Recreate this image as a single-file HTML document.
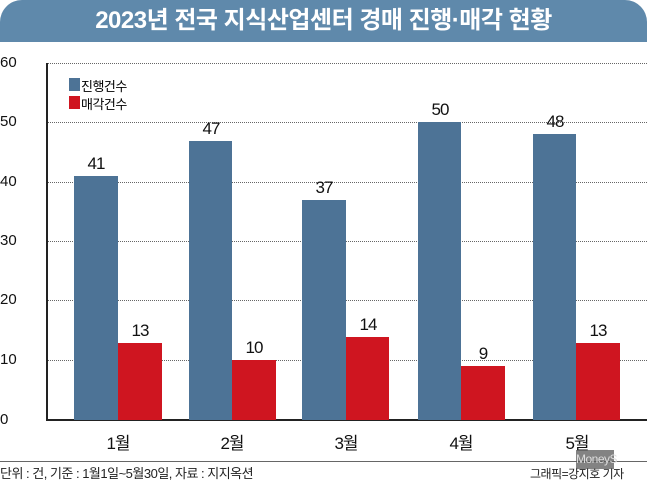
<!DOCTYPE html><html><head><meta charset="utf-8"><style>
body{margin:0;width:647px;height:481px;background:#fff;position:relative;overflow:hidden;font-family:"Liberation Sans","Noto Sans CJK KR",sans-serif}
.a{position:absolute;white-space:nowrap}
.hd{left:0;top:0;width:647px;height:42px;background:#5f89ab;border-radius:22px 22px 0 0;color:#fff;font-size:24px;font-weight:bold;text-align:center;line-height:42px;letter-spacing:-0.5px}
.g{left:47px;width:600px;border-top:1px dotted #666;height:0}
.yl{left:0;font-size:15px;color:#111}
.b{background:#4d7396}.r{background:#cf1520}
.v{font-size:17px;color:#111;width:44px;text-align:center;letter-spacing:-1px}
.m{font-size:17px;color:#111;width:60px;text-align:center;top:429px;letter-spacing:-1px}
</style></head><body>
<div class="a hd">2023년 전국 지식산업센터 경매 진행·매각 현황</div>
<div class="a g" style="top:63px"></div><div class="a g" style="top:122px"></div><div class="a g" style="top:182px"></div><div class="a g" style="top:241px"></div><div class="a g" style="top:300px"></div><div class="a g" style="top:360px"></div>
<div class="a yl" style="top:54px">60</div><div class="a yl" style="top:113px">50</div><div class="a yl" style="top:173px">40</div><div class="a yl" style="top:232px">30</div><div class="a yl" style="top:291px">20</div><div class="a yl" style="top:351px">10</div><div class="a yl" style="top:411px">0</div>
<div class="a" style="left:46px;top:63px;width:2px;height:358px;background:#222"></div>
<div class="a" style="left:46px;top:419px;width:601px;height:2px;background:#222"></div>
<div class="a b" style="left:69px;top:78px;width:11px;height:13px"></div><div class="a" style="left:81px;top:76px;font-size:13px;letter-spacing:-0.5px">진행건수</div>
<div class="a r" style="left:69px;top:96px;width:11px;height:13px"></div><div class="a" style="left:81px;top:94px;font-size:13px;letter-spacing:-0.5px">매각건수</div>

<div class="a b" style="left:74px;top:176px;width:44px;height:244px"></div><div class="a r" style="left:118px;top:343px;width:44px;height:77px"></div>
<div class="a v" style="left:74px;top:154px">41</div><div class="a v" style="left:118px;top:321px">13</div>
<div class="a b" style="left:189px;top:141px;width:43px;height:279px"></div><div class="a r" style="left:232px;top:360px;width:44px;height:60px"></div>
<div class="a v" style="left:189px;top:119px">47</div><div class="a v" style="left:232px;top:338px">10</div>
<div class="a b" style="left:302px;top:200px;width:44px;height:220px"></div><div class="a r" style="left:346px;top:337px;width:43px;height:83px"></div>
<div class="a v" style="left:302px;top:178px">37</div><div class="a v" style="left:346px;top:315px">14</div>
<div class="a b" style="left:418px;top:122px;width:43px;height:298px"></div><div class="a r" style="left:461px;top:366px;width:44px;height:54px"></div>
<div class="a v" style="left:418px;top:100px">50</div><div class="a v" style="left:461px;top:344px">9</div>
<div class="a b" style="left:533px;top:134px;width:43px;height:286px"></div><div class="a r" style="left:576px;top:343px;width:44px;height:77px"></div>
<div class="a v" style="left:533px;top:112px">48</div><div class="a v" style="left:576px;top:321px">13</div>

<div class="a m" style="left:88px">1월</div><div class="a m" style="left:202px">2월</div><div class="a m" style="left:316px">3월</div><div class="a m" style="left:431px">4월</div><div class="a m" style="left:547px">5월</div>
<div class="a" style="left:0;top:461px;width:647px;height:1px;background:#666"></div>
<div class="a" style="left:0;top:463px;font-size:13px;color:#222;letter-spacing:-0.5px">단위 : 건, 기준 : 1월1일~5월30일, 자료 : 지지옥션</div>
<div class="a" style="left:530px;top:465px;font-size:12px;color:#222;letter-spacing:-0.5px">그래픽=강지호 기자</div>
<div class="a" style="left:576px;top:450px;width:38px;height:19px;background:rgba(90,90,90,0.75);color:#ddd;font-size:12px;line-height:19px;text-align:center;letter-spacing:-0.5px">MoneyS</div>
</body></html>
